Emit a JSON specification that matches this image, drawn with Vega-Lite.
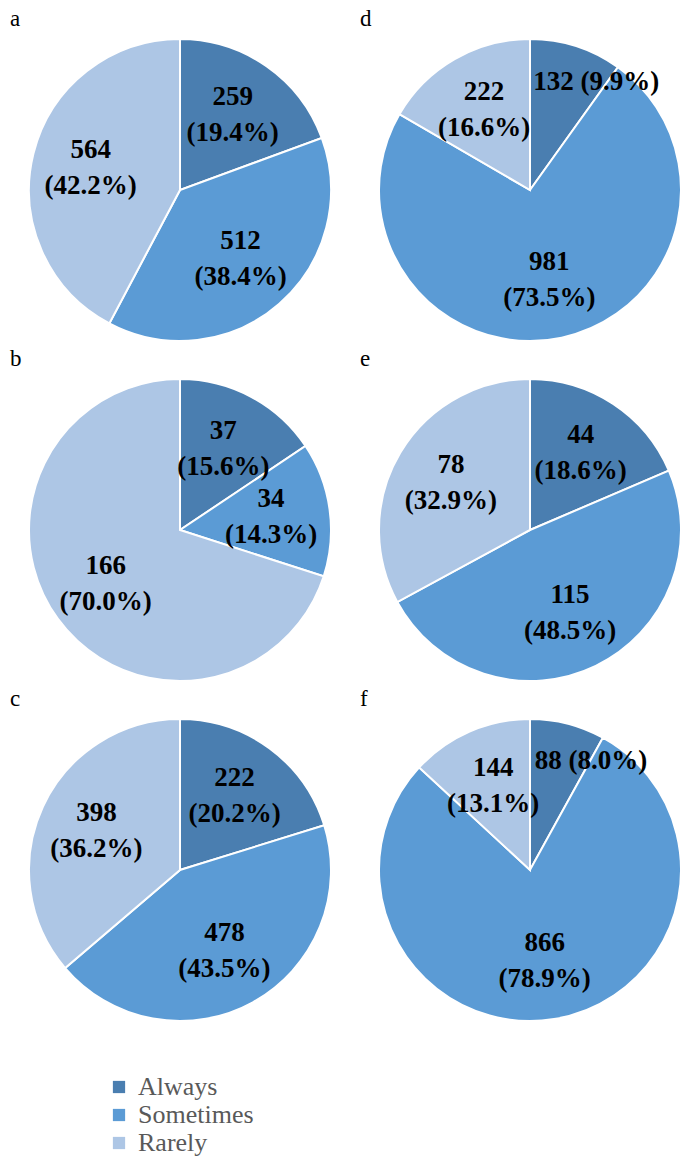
{
  "$schema": "https://vega.github.io/schema/vega-lite/v6.json",
  "padding": {"left": 10, "top": 8, "right": 0, "bottom": 0},
  "background": "white",
  "data": {"values": [
    {"panel": "a", "k": 1, "cat": "Always", "n": 259, "label": "259\n(19.4%)"},
    {"panel": "a", "k": 2, "cat": "Sometimes", "n": 512, "label": "512\n(38.4%)"},
    {"panel": "a", "k": 3, "cat": "Rarely", "n": 564, "label": "564\n(42.2%)"},
    {"panel": "b", "k": 1, "cat": "Always", "n": 37, "label": "37\n(15.6%)"},
    {"panel": "b", "k": 2, "cat": "Sometimes", "n": 34, "label": "34\n(14.3%)"},
    {"panel": "b", "k": 3, "cat": "Rarely", "n": 166, "label": "166\n(70.0%)"},
    {"panel": "c", "k": 1, "cat": "Always", "n": 222, "label": "222\n(20.2%)"},
    {"panel": "c", "k": 2, "cat": "Sometimes", "n": 478, "label": "478\n(43.5%)"},
    {"panel": "c", "k": 3, "cat": "Rarely", "n": 398, "label": "398\n(36.2%)"},
    {"panel": "d", "k": 1, "cat": "Always", "n": 132, "label": "132 (9.9%)"},
    {"panel": "d", "k": 2, "cat": "Sometimes", "n": 981, "label": "981\n(73.5%)"},
    {"panel": "d", "k": 3, "cat": "Rarely", "n": 222, "label": "222\n(16.6%)"},
    {"panel": "e", "k": 1, "cat": "Always", "n": 44, "label": "44\n(18.6%)"},
    {"panel": "e", "k": 2, "cat": "Sometimes", "n": 115, "label": "115\n(48.5%)"},
    {"panel": "e", "k": 3, "cat": "Rarely", "n": 78, "label": "78\n(32.9%)"},
    {"panel": "f", "k": 1, "cat": "Always", "n": 88, "label": "88 (8.0%)"},
    {"panel": "f", "k": 2, "cat": "Sometimes", "n": 866, "label": "866\n(78.9%)"},
    {"panel": "f", "k": 3, "cat": "Rarely", "n": 144, "label": "144\n(13.1%)"}
  ]},
  "facet": {
    "field": "panel", "type": "nominal",
    "sort": ["a", "d", "b", "e", "c", "f"],
    "header": {
      "title": null,
      "labelAnchor": "start",
      "labelFont": "Liberation Serif",
      "labelFontSize": 23,
      "labelColor": "black",
      "labelPadding": 4,
      "labelExpr": "(datum.label == 'd' || datum.label == 'e' || datum.label == 'f') ? '\u2002\u2002\u2002' + datum.label : datum.label"
    }
  },
  "columns": 2,
  "spacing": {"column": 10, "row": 3},
  "spec": {
    "width": 340,
    "height": 304,
    "layer": [
      {
        "mark": {"type": "arc", "outerRadius": 151, "stroke": "white", "strokeWidth": 2},
        "encoding": {
          "theta": {"field": "n", "type": "quantitative", "stack": true},
          "order": {"field": "k", "type": "quantitative"},
          "color": {
            "field": "cat", "type": "nominal",
            "scale": {"domain": ["Always", "Sometimes", "Rarely"], "range": ["#4a7eb0", "#5b9bd5", "#adc6e5"]},
            "legend": {
              "title": null,
              "orient": "none",
              "legendX": 96,
              "legendY": 1036,
              "direction": "vertical",
              "symbolType": "square",
              "symbolSize": 150,
              "symbolStrokeWidth": 0,
              "labelFont": "Liberation Serif",
              "labelFontSize": 26,
              "labelColor": "#595959",
              "rowPadding": 2,
              "labelOffset": 6
            }
          }
        }
      },
      {
        "mark": {
          "type": "text", "radius": 92, "font": "Liberation Serif", "fontWeight": "bold",
          "fontSize": 27, "lineHeight": 36, "lineBreak": "\n", "color": "black", "baseline": "middle",
          "dx": {"expr": "indexof(datum.label, '\\n') < 0 ? 38 : 0"},
          "dy": {"expr": "indexof(datum.label, '\\n') < 0 ? -20 : -18"}
        },
        "encoding": {
          "theta": {"field": "n", "type": "quantitative", "stack": true},
          "order": {"field": "k", "type": "quantitative"},
          "text": {"field": "label", "type": "nominal"}
        }
      }
    ]
  },
  "config": {"view": {"stroke": null}}
}
